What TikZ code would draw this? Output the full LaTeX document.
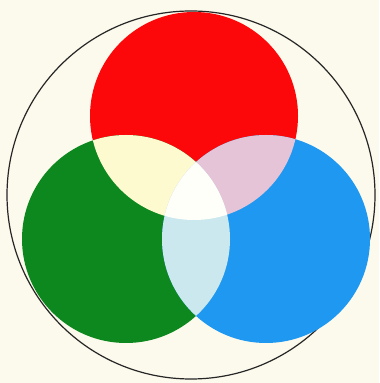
\documentclass[tikz,border=0pt]{standalone}
\usepackage{tikz}
\usetikzlibrary{positioning}
\definecolor{paper}{RGB}{252,250,236}
\definecolor{rgbred}{RGB}{252,8,10}
\definecolor{rgbgreen}{RGB}{12,136,30}
\definecolor{rgbblue}{RGB}{30,152,240}
\definecolor{mixyellow}{RGB}{254,250,208}
\definecolor{mixpink}{RGB}{228,196,214}
\definecolor{mixcyan}{RGB}{202,232,238}
\definecolor{mixwhite}{RGB}{255,255,250}

\begin{document}
\begin{tikzpicture}[x=0.5pt,y=0.5pt]
\fill[paper] (0,0) rectangle (379,383);
\useasboundingbox (0,0) rectangle (379,383);
\def\circR{(194,267) circle[radius=104]}
\def\circG{(126,144) circle[radius=104]}
\def\circB{(266,144) circle[radius=104]}
% outer ring
\draw[line width=0.6pt,black!85] (191,188) circle[radius=184];
% the three lights
\fill[rgbred] \circR;
\fill[rgbgreen] \circG;
\fill[rgbblue] \circB;
% overlaps
\begin{scope}
  \clip \circR; \fill[mixyellow] \circG;
\end{scope}
\begin{scope}
  \clip \circR; \fill[mixpink] \circB;
\end{scope}
\begin{scope}
  \clip \circG; \fill[mixcyan] \circB;
\end{scope}
\begin{scope}
  \clip \circR; \clip \circG; \fill[mixwhite] \circB;
\end{scope}
\end{tikzpicture}
\end{document}
